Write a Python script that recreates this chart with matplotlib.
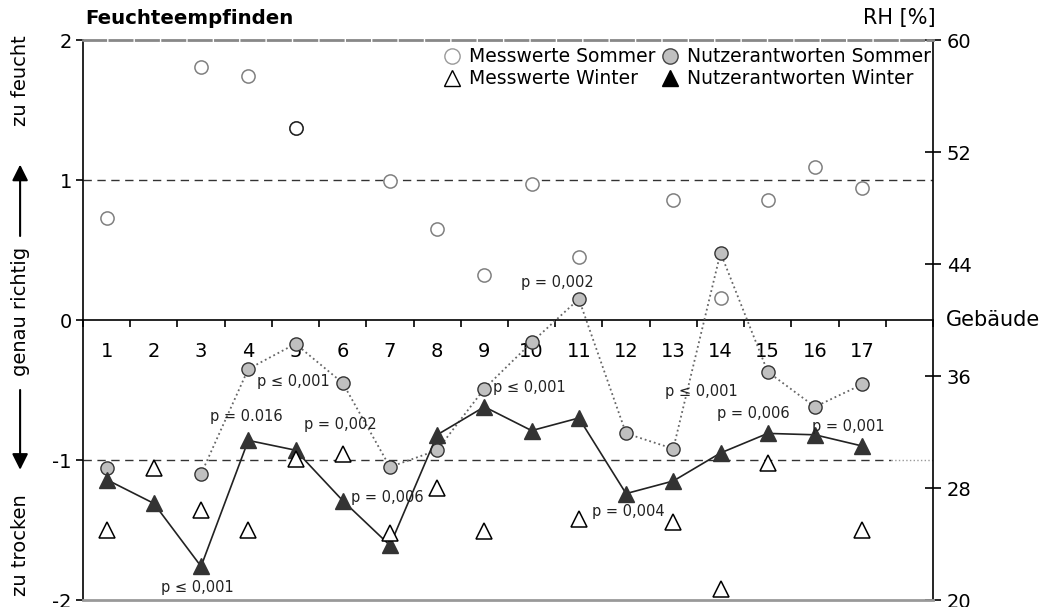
import numpy as np
import matplotlib
matplotlib.use("Agg")
import matplotlib.pyplot as plt

plt.rcParams['font.family'] = 'DejaVu Sans'
plt.rcParams['axes.unicode_minus'] = False

nan = np.nan
gebaeude = np.arange(1, 18)

# Messwerte (RH in %, rechte Achse)
rh_sommer = [47.3, nan, 58.1, 57.4, 53.7, nan, 49.9, 46.5, 43.2, 49.7, 44.5, nan, 48.6, 41.6, 48.6, 50.9, 49.4]
rh_winter = [25.0, 29.4, 26.4, 25.0, 30.1, 30.4, 24.8, 28.0, 24.9, nan, 25.8, nan, 25.6, 20.8, 29.8, nan, 25.0]

# Nutzerantworten (Feuchteempfinden, linke Achse)
nutzer_sommer = [-1.06, nan, -1.10, -0.35, -0.17, -0.45, -1.05, -0.93, -0.49, -0.16, 0.15, -0.81, -0.92, 0.48, -0.37, -0.62, -0.46]
nutzer_winter = [-1.14, -1.31, -1.76, -0.86, -0.93, -1.29, -1.61, -0.82, -0.62, -0.79, -0.70, -1.24, -1.15, -0.95, -0.81, -0.82, -0.90]

# p-Werte: (Text, x, y)
p_texte = ["p \u2264 0,001", "p = 0.016", "p \u2264 0,001", "p = 0,002", "p = 0,006", "p \u2264 0,001",
           "p = 0,002", "p = 0,004", "p \u2264 0,001", "p = 0,006", "p = 0,001"]
p_x = [2.92, 3.95, 4.95, 5.95, 6.95, 9.95, 10.55, 12.05, 13.6, 14.7, 16.7]
p_y = [-1.91, -0.69, -0.44, -0.75, -1.27, -0.48, 0.27, -1.37, -0.51, -0.67, -0.76]

fig = plt.figure(figsize=(10.47, 6.07), dpi=100)
ax = fig.add_axes([83/1047, 1 - 600/607, 850/1047, 560/607])
ax2 = ax.twinx()

ax.set_xlim(0.5, 18.5)
ax.set_ylim(-2, 2)
ax2.set_ylim(20, 60)

# Linien auf 1 und -1
ax.axhline(1, color='#333333', lw=1, dashes=(6, 4), zorder=1)
ax.plot([0.5, 17.6], [-1, -1], color='#333333', lw=1, dashes=(6, 4), zorder=1)
ax.plot([17.6, 18.5], [-1, -1], color='#999999', lw=1, ls=':', zorder=1)

# Nutzerantworten
ax.plot(gebaeude, nutzer_sommer, ls=':', color='#666666', lw=1.3, marker='o', ms=9.5,
        mfc='#c0c0c0', mec='#333333', mew=1, zorder=3)
ax.plot(gebaeude, nutzer_winter, ls='-', color='#222222', lw=1.2, marker='^', ms=11,
        mfc='#333333', mec='#333333', zorder=4)

# Messwerte
ax2.plot(gebaeude, rh_sommer, ls='none', marker='o', ms=9.5, mfc='white', mec='#808080', mew=1.1)
ax2.plot(gebaeude[4], rh_sommer[4], ls='none', marker='o', ms=9.5, mfc='white', mec='#222222', mew=1.1)
ax2.plot(gebaeude, rh_winter, ls='none', marker='^', ms=11, mfc='white', mec='black', mew=1.1)

for t, x, y in zip(p_texte, p_x, p_y):
    ax.text(x, y, t, ha='center', va='center', fontsize=10.5, color='#222222', zorder=6)

# Achsen / Spines
ax.spines['bottom'].set_position(('data', 0))
ax.spines['top'].set_visible(False)
ax.spines['right'].set_visible(False)
ax.spines['left'].set_linewidth(1.2)
ax.spines['bottom'].set_linewidth(1.2)
ax2.spines['left'].set_visible(False)
ax2.spines['right'].set_linewidth(1.2)
ax2.spines['top'].set_color('#888888')
ax2.spines['top'].set_linewidth(2)
ax2.spines['top'].set_linestyle((0, (8, 1.5)))
ax2.spines['bottom'].set_color('#999999')
ax2.spines['bottom'].set_linewidth(2)

ax.set_xticks(gebaeude)
ax.set_xticklabels([str(g) for g in gebaeude])
ax.set_xticks(np.arange(0.5, 19, 1), minor=True)
ax.tick_params(axis='x', which='major', length=0, pad=16, labelsize=14)
ax.tick_params(axis='x', which='minor', direction='out', length=5, width=1.2)
ax.set_yticks([-2, -1, 0, 1, 2])
ax.tick_params(axis='y', direction='out', length=5, width=1.2, labelsize=14, pad=3)

ax2.set_yticks([20, 28, 36, 44, 52, 60])
ax2.tick_params(axis='y', direction='inout', length=12, width=1.2, labelsize=14, pad=4)

# Texte
fig.text(85/1047, 1 - 18/607, "Feuchteempfinden", fontsize=14.2, fontweight='bold', va='center')
fig.text(936/1047, 1 - 18/607, "RH [%]", fontsize=15, va='center', ha='right')
ax.text(1.015, 0, "Geb\u00e4ude", transform=ax.get_yaxis_transform(), fontsize=15, va='center', ha='left')

# linke Beschriftung mit Pfeilen
tr = ax.get_yaxis_transform()
lx = -0.074
ax.text(lx, 1.71, "zu feucht", transform=tr, rotation=90, ha='center', va='center', fontsize=14)
ax.text(lx, 0.06, "genau richtig", transform=tr, rotation=90, ha='center', va='center', fontsize=14)
ax.text(lx, -1.61, "zu trocken", transform=tr, rotation=90, ha='center', va='center', fontsize=14)
ax.annotate('', xy=(lx, 1.11), xytext=(lx, 0.60), xycoords=tr, textcoords=tr,
            arrowprops=dict(arrowstyle='-|>', color='black', lw=1.5, mutation_scale=24, shrinkA=0, shrinkB=0))
ax.annotate('', xy=(lx, -1.07), xytext=(lx, -0.50), xycoords=tr, textcoords=tr,
            arrowprops=dict(arrowstyle='-|>', color='black', lw=1.5, mutation_scale=24, shrinkA=0, shrinkB=0))

# Legende
h1, = ax2.plot([], [], ls='none', marker='o', ms=11, mfc='white', mec='#999999')
h2, = ax2.plot([], [], ls='none', marker='^', ms=12, mfc='white', mec='black')
h3, = ax2.plot([], [], ls='none', marker='o', ms=11, mfc='#c0c0c0', mec='#444444')
h4, = ax2.plot([], [], ls='none', marker='^', ms=12, mfc='black', mec='black')
ax2.legend([h1, h2, h3, h4],
           ["Messwerte Sommer", "Messwerte Winter", "Nutzerantworten Sommer", "Nutzerantworten Winter"],
           ncol=2, loc='upper right', bbox_to_anchor=(1.0, 0.99), frameon=False, fontsize=13.5,
           handlelength=1.0, handletextpad=0.4, columnspacing=0.3, labelspacing=0.15, borderaxespad=0,
           borderpad=0.1)

fig.savefig("out.png", dpi=100)
